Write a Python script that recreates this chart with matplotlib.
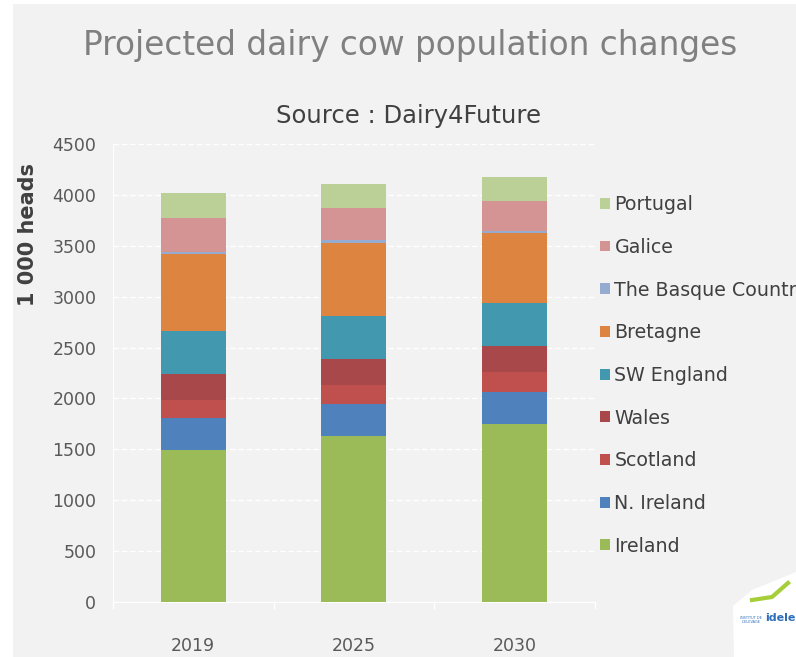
import numpy as np
import matplotlib.pyplot as plt
from matplotlib.patches import Rectangle, Polygon

# Data (1 000 heads)
years = ["2019", "2025", "2030"]
regions = ["Ireland", "N. Ireland", "Scotland", "Wales", "SW England",
           "Bretagne", "The Basque Country", "Galice", "Portugal"]
ireland = [1495, 1635, 1750]
n_ireland = [316, 313, 310]
scotland = [177, 187, 200]
wales = [255, 253, 260]
sw_england = [423, 425, 420]
bretagne = [750, 715, 685]
basque = [23, 30, 23]
galice = [337, 315, 295]
portugal = [242, 235, 236]
series = [ireland, n_ireland, scotland, wales, sw_england, bretagne, basque, galice, portugal]
colors = ["#9bbb59", "#4f81bd", "#c0504d", "#a9484a", "#4198af",
          "#dd8540", "#95abd0", "#d49494", "#bbd097"]

W, H = 796, 657
fig = plt.figure(figsize=(W / 100, H / 100), dpi=100)
fig.patch.set_facecolor("white")
fig.patches.append(Rectangle((13 / W, 0), 1, 1 - 4 / H, transform=fig.transFigure,
                             facecolor="#f2f2f2", edgecolor="none", zorder=-10))

ax = fig.add_axes([113 / W, 1 - 602 / H, 481.5 / W, 458 / H])
ax.set_facecolor("none")

x = np.arange(len(years))
bottom = np.zeros(len(years))
for name, vals, c in zip(regions, series, colors):
    ax.bar(x, vals, width=0.405, bottom=bottom, color=c, label=name, zorder=3)
    bottom += np.array(vals)

ax.set_xlim(-0.5, 2.5)
ax.set_ylim(0, 4500)
ax.set_yticks(np.arange(0, 4501, 500))
ax.set_xticks(x)
ax.set_xticklabels(years)
ax.set_xticks([-0.5, 0.5, 1.5, 2.5], minor=True)
ax.tick_params(axis="x", which="major", length=0, pad=25, labelsize=12.5, labelcolor="#595959")
ax.tick_params(axis="x", which="minor", length=5, color="white", width=1)
ax.tick_params(axis="y", length=0, pad=12, labelsize=12.5, labelcolor="#595959")
ax.yaxis.grid(True, color="white", linestyle=(0, (4, 2)), linewidth=1, zorder=0)
for s in ["top", "right"]:
    ax.spines[s].set_visible(False)
ax.spines["left"].set_color("white")
ax.spines["bottom"].set_color("white")

fig.text(28 / W, 1 - 234 / H, "1 000 heads", rotation=90, ha="center", va="center",
         fontsize=15, fontweight="bold", color="#404040")

fig.text(410 / W, 1 - 55 / H, "Projected dairy cow population changes", ha="center",
         va="baseline", fontsize=23.6, color="#808080")
fig.text(408 / W, 1 - 122.7 / H, "Source : Dairy4Future", ha="center",
         va="baseline", fontsize=17.5, color="#404040")

handles, labels = ax.get_legend_handles_labels()
leg = fig.legend(handles[::-1], labels[::-1], loc="upper left",
                 bbox_to_anchor=(583 / W, 1 - 178 / H), frameon=False,
                 fontsize=13.7, labelcolor="#404040", handlelength=0.5,
                 handleheight=0.5, handletextpad=0.25, labelspacing=1.245)

# idele logo corner (approximation)
pts = [(796, 572), (752, 590), (733, 606), (734, 657), (796, 657)]
fig.patches.append(Polygon([(px / W, 1 - py / H) for px, py in pts], closed=True,
                           transform=fig.transFigure, facecolor="white", edgecolor="none"))
fig.lines.append(plt.Line2D([752 / W, 772 / W, 788 / W], [1 - 600 / H, 1 - 597 / H, 1 - 583 / H],
                            transform=fig.transFigure, color="#a6ce39", linewidth=3))
fig.text(795 / W, 1 - 618 / H, "idele", ha="right", va="center", fontsize=8,
         fontweight="bold", color="#2c6fb7")
fig.text(751 / W, 1 - 620 / H, "INSTITUT DE\nL'ELEVAGE", ha="center", va="center",
         fontsize=2.5, color="#2c6fb7", linespacing=1)

fig.savefig("out.png", dpi=100, facecolor=fig.get_facecolor())
